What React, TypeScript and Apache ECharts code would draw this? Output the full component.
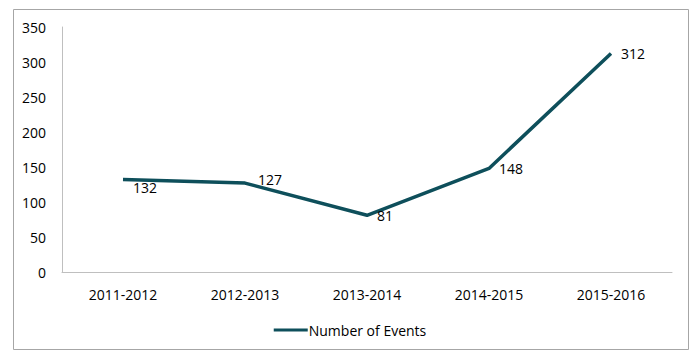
import React, { useEffect, useRef } from "react";
import * as echarts from "echarts";

const categories = ["2011-2012", "2012-2013", "2013-2014", "2014-2015", "2015-2016"];
const seriesName = "Number of Events";
const events = [132, 127, 81, 148, 312];
const yTicks = { min: 0, max: 350, interval: 50 };

// label offsets (style only)
const labelOffsets: [number, number][] = [
  [2, 8],
  [5, -4],
  [2, 0],
  [2, 0],
  [2, 0],
];

const FONT = "'Open Sans', 'Noto Sans', sans-serif";

export default function App() {
  const ref = useRef<HTMLDivElement>(null);
  useEffect(() => {
    if (!ref.current) return;
    const chart = echarts.init(ref.current, null, { renderer: "svg" });
    chart.setOption({
      animation: false,
      backgroundColor: "#ffffff",
      textStyle: { fontFamily: FONT },
      grid: { left: 62, right: 28, top: 27, bottom: 87 },
      xAxis: {
        type: "category",
        data: categories,
        boundaryGap: true,
        axisLine: { show: true, lineStyle: { color: "#bfbfbf", width: 1 } },
        axisTick: { show: false },
        axisLabel: { color: "#000", fontSize: 14, fontFamily: FONT, margin: 15 },
        splitLine: { show: false },
      },
      yAxis: {
        type: "value",
        min: yTicks.min,
        max: yTicks.max,
        interval: yTicks.interval,
        axisLine: { show: true, lineStyle: { color: "#bfbfbf", width: 1 } },
        axisTick: { show: false },
        axisLabel: { color: "#000", fontSize: 14, fontFamily: FONT, margin: 16 },
        splitLine: { show: false },
      },
      legend: {
        data: [seriesName],
        bottom: 17,
        left: "center",
        icon: "rect",
        itemWidth: 34,
        itemHeight: 3,
        textStyle: { color: "#000", fontSize: 14, fontFamily: FONT, padding: [0, 0, 0, -4] },
      },
      graphic: [
        {
          type: "rect",
          shape: { x: 13.5, y: 9.5, width: 675, height: 340 },
          style: { fill: "none", stroke: "#a6a6a6", lineWidth: 1 },
          silent: true,
          z: -1,
        },
      ],
      series: [
        {
          name: seriesName,
          type: "line",
          data: events.map((v, i) => ({
            value: v,
            label: { offset: labelOffsets[i] },
          })),
          symbol: "circle",
          symbolSize: 0.1,
          lineStyle: { color: "#0e4f5b", width: 3.5 },
          itemStyle: { color: "#0e4f5b" },
          label: {
            show: true,
            position: "right",
            distance: 8,
            color: "#000",
            fontSize: 14,
            fontFamily: FONT,
          },
        },
      ],
    });
    return () => chart.dispose();
  }, []);
  return (
    <div
      ref={ref}
      style={{ position: "fixed", left: 0, top: 0, width: 700, height: 359, background: "#fff" }}
    />
  );
}
